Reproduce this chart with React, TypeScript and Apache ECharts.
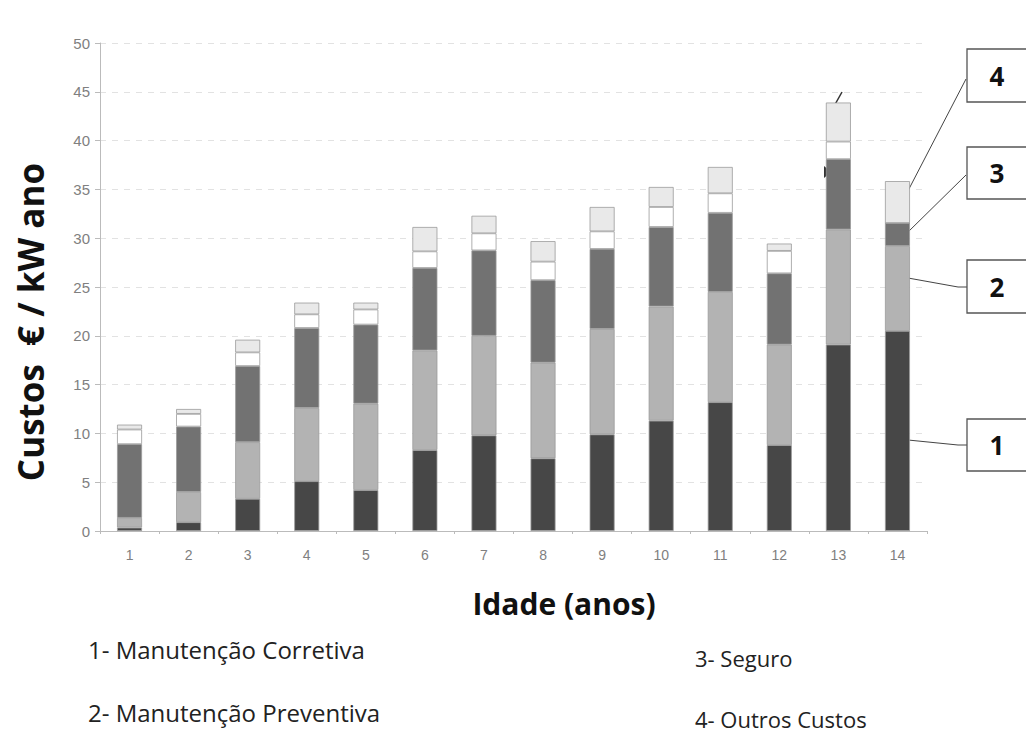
import React, { useEffect, useRef } from 'react';
import * as echarts from 'echarts';

const categories = ['1', '2', '3', '4', '5', '6', '7', '8', '9', '10', '11', '12', '13', '14'];
const corretiva = [0.35, 0.9, 3.3, 5.1, 4.2, 8.3, 9.8, 7.45, 9.9, 11.3, 13.2, 8.8, 19.1, 20.5];
const preventiva = [1.0, 3.1, 5.8, 7.5, 8.85, 10.2, 10.2, 9.8, 10.8, 11.7, 11.3, 10.3, 11.8, 8.7];
const seguro = [7.55, 6.7, 7.8, 8.2, 8.1, 8.45, 8.75, 8.45, 8.2, 8.15, 8.1, 7.3, 7.2, 2.35];
const semRotulo = [1.5, 1.3, 1.4, 1.4, 1.55, 1.7, 1.75, 1.9, 1.8, 2.05, 2.0, 2.3, 1.8, 0];
const outros = [0.5, 0.5, 1.3, 1.2, 0.7, 2.5, 1.8, 2.1, 2.5, 2.05, 2.7, 0.75, 4.0, 4.3];

const legendItems = ['1- Manutenção Corretiva', '2- Manutenção Preventiva', '3- Seguro', '4- Outros Custos'];
const boxLabels = ['4', '3', '2', '1'];

export default function App() {
  const ref = useRef<HTMLDivElement>(null);
  useEffect(() => {
    const chart = echarts.init(ref.current!, null, { renderer: 'svg' });
    const border = { borderColor: '#9a9a9a', borderWidth: 0.8 };
    const mk = (name: string, data: number[], color: string) => ({
      name,
      type: 'bar',
      stack: 'custos',
      barWidth: 25,
      data,
      itemStyle: { color, ...border },
    });
    const font = 'Open Sans';
    const boxes = [
      { y: 49, h: 53 },
      { y: 147, h: 52 },
      { y: 260, h: 53 },
      { y: 419, h: 52 },
    ];
    const leftLegend = { fontSize: 24, fontFamily: font, fill: '#222', verticalAlign: 'middle' };
    const rightLegend = { fontSize: 22, fontFamily: font, fill: '#222', verticalAlign: 'middle' };
    const graphic: any[] = [
      {
        type: 'text', x: 30, y: 322, rotation: Math.PI / 2,
        style: { text: 'Custos  € / kW ano', fontSize: 35, fontWeight: 'bold', fontFamily: font, fill: '#111', align: 'center', verticalAlign: 'middle' },
      },
      {
        type: 'text', x: 564, y: 603,
        style: { text: 'Idade (anos)', fontSize: 30, fontWeight: 'bold', fontFamily: font, fill: '#111', align: 'center', verticalAlign: 'middle' },
      },
      { type: 'text', x: 88, y: 649, style: { text: legendItems[0], ...leftLegend } },
      { type: 'text', x: 88, y: 712, style: { text: legendItems[1], ...leftLegend } },
      { type: 'text', x: 695, y: 658, style: { text: legendItems[2], ...rightLegend } },
      { type: 'text', x: 695, y: 719, style: { text: legendItems[3], ...rightLegend } },
      { type: 'line', shape: { x1: 966, y1: 79, x2: 897, y2: 212 }, style: { stroke: '#444', lineWidth: 1 } },
      { type: 'line', shape: { x1: 966, y1: 175, x2: 907, y2: 233 }, style: { stroke: '#444', lineWidth: 1 } },
      { type: 'polyline', shape: { points: [[908, 278], [958, 287], [967, 287]] }, style: { stroke: '#444', lineWidth: 1, fill: null } },
      { type: 'polyline', shape: { points: [[908, 440], [958, 445], [967, 445]] }, style: { stroke: '#444', lineWidth: 1, fill: null } },
      { type: 'line', shape: { x1: 842, y1: 92, x2: 833, y2: 108 }, style: { stroke: '#333', lineWidth: 1.5 } },
      { type: 'polygon', shape: { points: [[824, 166], [831, 172], [824, 178]] }, style: { fill: '#333' } },
    ];
    boxes.forEach((b, i) => {
      graphic.push({ type: 'rect', shape: { x: 967, y: b.y, width: 70, height: b.h }, style: { fill: '#fff', stroke: '#555', lineWidth: 1.3 } });
      graphic.push({
        type: 'text', x: 997, y: b.y + b.h / 2,
        style: { text: boxLabels[i], fontSize: 26, fontWeight: 'bold', fontFamily: font, fill: '#111', align: 'center', verticalAlign: 'middle' },
      });
    });
    chart.setOption({
      animation: false,
      backgroundColor: '#fff',
      grid: { left: 100, top: 43, width: 827, height: 488 },
      xAxis: {
        type: 'category',
        data: categories,
        axisLine: { lineStyle: { color: '#bbb' } },
        axisTick: { show: true, length: 3, lineStyle: { color: '#bbb' } },
        axisLabel: { color: '#808080', fontSize: 14, fontFamily: 'Liberation Sans', margin: 17 },
      },
      yAxis: {
        type: 'value',
        min: 0,
        max: 50,
        interval: 5,
        axisLine: { show: true, lineStyle: { color: '#bbb' } },
        axisTick: { show: true, length: 5, lineStyle: { color: '#bbb' } },
        axisLabel: { color: '#808080', fontSize: 15, fontFamily: 'Liberation Sans', margin: 10 },
        splitLine: { show: true, lineStyle: { color: '#e2e2e2', type: [6, 6] } },
      },
      series: [
        mk('Manutenção Corretiva', corretiva, '#474747'),
        mk('Manutenção Preventiva', preventiva, '#b3b3b3'),
        mk('Seguro', seguro, '#727272'),
        mk('Sem rótulo', semRotulo, '#ffffff'),
        mk('Outros Custos', outros, '#e9e9e9'),
      ],
      graphic,
    });
    return () => chart.dispose();
  }, []);
  return <div ref={ref} style={{ position: 'absolute', left: 0, top: 0, width: 1026, height: 733 }} />;
}
